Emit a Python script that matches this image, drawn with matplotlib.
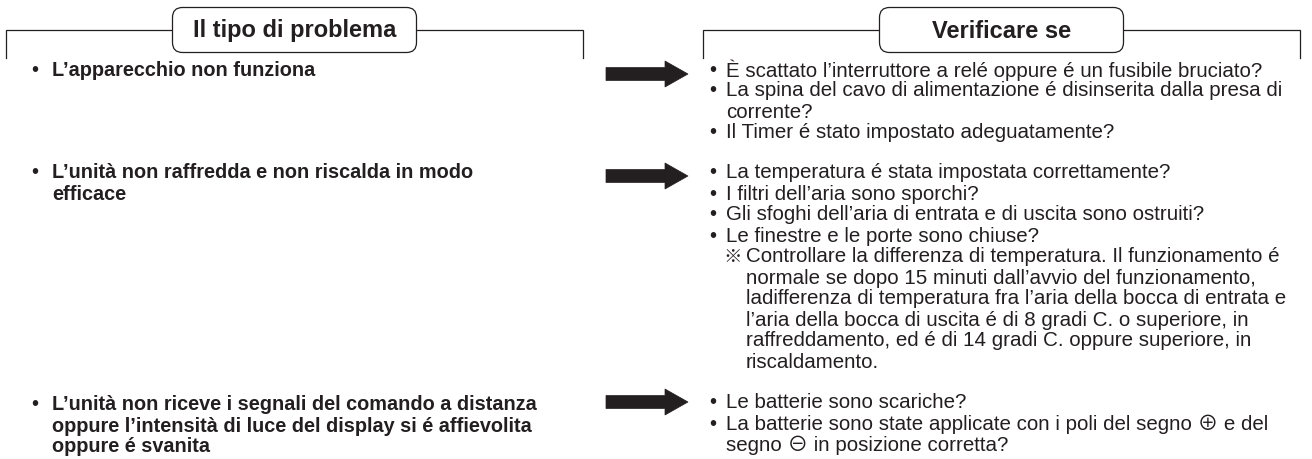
import matplotlib
matplotlib.use("Agg")
import matplotlib.pyplot as plt
from matplotlib.patches import FancyBboxPatch, Polygon

# ---------------- data ----------------
header_left = "Il tipo di problema"
header_right = "Verificare se"

problems = [
    ["L’apparecchio non funziona"],
    ["L’unità non raffredda e non riscalda in modo", "efficace"],
    ["L’unità non riceve i segnali del comando a distanza",
     "oppure l’intensità di luce del display si é affievolita",
     "oppure é svanita"],
]

checks_1 = [
    ("•", ["È scattato l’interruttore a relé oppure é un fusibile bruciato?"]),
    ("•", ["La spina del cavo di alimentazione é disinserita dalla presa di",
           "corrente?"]),
    ("•", ["Il Timer é stato impostato adeguatamente?"]),
]
checks_2 = [
    ("•", ["La temperatura é stata impostata correttamente?"]),
    ("•", ["I filtri dell’aria sono sporchi?"]),
    ("•", ["Gli sfoghi dell’aria di entrata e di uscita sono ostruiti?"]),
    ("•", ["Le finestre e le porte sono chiuse?"]),
    ("※", ["Controllare la differenza di temperatura. Il funzionamento é",
           "normale se dopo 15 minuti dall’avvio del funzionamento,",
           "ladifferenza di temperatura fra l’aria della bocca di entrata e",
           "l’aria della bocca di uscita é di 8 gradi C. o superiore, in",
           "raffreddamento, ed é di 14 gradi C. oppure superiore, in",
           "riscaldamento."]),
]
checks_3 = [
    ("•", ["Le batterie sono scariche?"]),
    ("•", ["La batterie sono state applicate con i poli del segno ⊕ e del",
           "segno ⊖ in posizione corretta?"]),
]
checks = [checks_1, checks_2, checks_3]

# ---------------- layout / style ----------------
W, H = 1312, 459
INK = "#231f20"
FAM = ["Liberation Sans", "Noto Sans CJK JP", "DejaVu Sans"]
FAM_MARK = ["Noto Sans CJK JP", "DejaVu Sans"]
FS_BODY = 14.8
FS_BOLD = 14.3
FS_HEAD = 17.0
LINE = 21.0

fig = plt.figure(figsize=(W / 100, H / 100), dpi=100)
ax = fig.add_axes([0, 0, 1, 1])
ax.set_xlim(0, W)
ax.set_ylim(H, 0)
ax.axis("off")

# header frames
frames = [(6, 583, header_left), (703, 1300, header_right)]
for x0, x1, title in frames:
    yl, yb = 30, 58
    ax.plot([x0, x0, x1, x1], [yb, yl, yl, yb], color=INK, lw=0.9,
            solid_joinstyle="miter")
    cx = (x0 + x1) / 2
    bw, bh = 244, 45
    box = FancyBboxPatch((cx - bw / 2, 7.5), bw, bh,
                         boxstyle="round,pad=0,rounding_size=10",
                         fc="white", ec=INK, lw=0.9, zorder=3)
    ax.add_patch(box)
    ax.text(cx, 7.5 + bh / 2 + 1, title, ha="center", va="center",
            fontsize=FS_HEAD, fontweight="bold", family=FAM, color=INK,
            zorder=4)

# left column problems
left_y = [70, 173, 405]
for y0, lines in zip(left_y, problems):
    ax.text(31, y0, "•", ha="left", va="center", fontsize=FS_BODY,
            family=FAM, color=INK)
    for i, ln in enumerate(lines):
        ax.text(52, y0 + i * LINE, ln, ha="left", va="center",
                fontsize=FS_BOLD, fontweight="bold", family=FAM, color=INK)

# right column checks
right_y = [70, 173, 403]
for y0, items in zip(right_y, checks):
    k = 0
    for mark, lines in items:
        if mark == "•":
            ax.text(709, y0 + k * LINE, mark, ha="left", va="center",
                    fontsize=FS_BODY, family=FAM, color=INK)
            tx = 726
        else:
            ax.text(723, y0 + k * LINE + 0.5, mark, ha="left", va="center",
                    fontsize=FS_BODY - 1.5, family=FAM_MARK, color=INK)
            tx = 746
        for ln in lines:
            ax.text(tx, y0 + k * LINE, ln, ha="left", va="center",
                    fontsize=FS_BODY, family=FAM, color=INK)
            k += 1

# arrows
arrow_y = [74, 176, 402]
for ay in arrow_y:
    xs, xh, xt = 606, 665, 688
    bt, hh = 6.5, 13
    pts = [(xs, ay - bt), (xh, ay - bt), (xh, ay - hh), (xt, ay),
           (xh, ay + hh), (xh, ay + bt), (xs, ay + bt)]
    ax.add_patch(Polygon(pts, closed=True, fc=INK, ec=INK, lw=0.5))

fig.savefig("out.png", dpi=100, facecolor="white")
